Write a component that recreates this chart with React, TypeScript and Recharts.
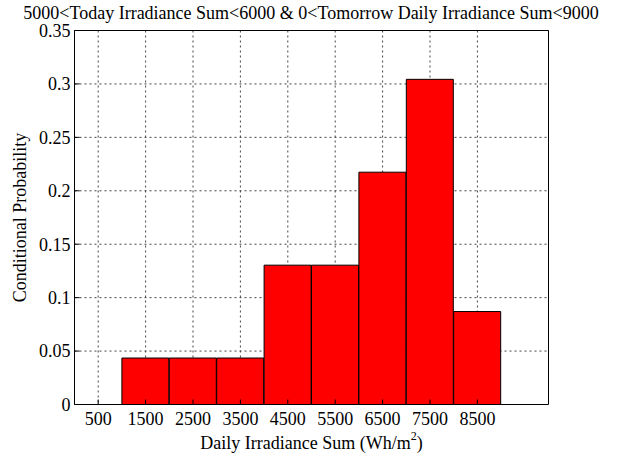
import { ComposedChart, Bar, XAxis, YAxis, CartesianGrid } from "recharts";

const binCenters = [1500, 2500, 3500, 4500, 5500, 6500, 7500, 8500];
const probabilities = [0.0435, 0.0435, 0.0435, 0.1304, 0.1304, 0.2174, 0.3043, 0.087];
const xTicks = [500, 1500, 2500, 3500, 4500, 5500, 6500, 7500, 8500];
const yTicks = [0, 0.05, 0.1, 0.15, 0.2, 0.25, 0.3, 0.35];

const chartTitle = "5000<Today Irradiance Sum<6000 & 0<Tomorrow Daily Irradiance Sum<9000";
const xTitle = "Daily Irradiance Sum (Wh/m";
const yTitle = "Conditional Probability";

const FONT = "'Liberation Serif', 'Times New Roman', serif";

export default function App() {
  const data = binCenters.map((c, i) => ({ center: c, prob: probabilities[i] }));
  const tickStyle = { fontFamily: FONT, fontSize: 18, fill: "#000" };

  return (
    <div style={{ position: "absolute", left: 0, top: 0, background: "#fff" }}>
      <ComposedChart
        width={623}
        height={459}
        data={data}
        margin={{ top: 29.5, right: 73.5, bottom: 0, left: 0.5 }}
        barCategoryGap={0}
        barGap={0}
      >
        <CartesianGrid stroke="#444" strokeDasharray="2 3" />
        <XAxis
          dataKey="center"
          type="number"
          domain={[0, 10000]}
          ticks={xTicks}
          interval={0}
          height={54.5}
          stroke="#000"
          tick={tickStyle}
          tickSize={-5}
          tickMargin={13}
          label={{
            content: ({ viewBox }: any) => {
              const cx = viewBox.x + viewBox.width / 2;
              return (
                <text x={cx} y={449} textAnchor="middle" fontFamily={FONT} fontSize={18} fill="#000">
                  {xTitle}
                  <tspan fontSize={12} dy={-9}>2</tspan>
                  <tspan dy={9}>)</tspan>
                </text>
              );
            },
          }}
        />
        <XAxis
          xAxisId="top"
          orientation="top"
          type="number"
          dataKey="center"
          domain={[0, 10000]}
          ticks={xTicks}
          height={1}
          tick={false}
          tickSize={-5}
          stroke="#000"
          label={{
            content: () => (
              <text x={311} y={18.5} textAnchor="middle" fontFamily={FONT} fontSize={18} fill="#000">
                {chartTitle}
              </text>
            ),
          }}
        />
        <YAxis
          type="number"
          domain={[0, 0.35]}
          ticks={yTicks}
          interval={0}
          width={74}
          stroke="#000"
          tick={tickStyle}
          tickSize={-5}
          tickMargin={9}
          tickFormatter={(v: number) => String(Number(v.toFixed(2)))}
          label={{
            content: ({ viewBox }: any) => {
              const cy = viewBox.y + viewBox.height / 2;
              return (
                <text
                  x={26}
                  y={cy}
                  transform={`rotate(-90, 26, ${cy})`}
                  textAnchor="middle"
                  fontFamily={FONT}
                  fontSize={18}
                  fill="#000"
                >
                  {yTitle}
                </text>
              );
            },
          }}
        />
        <YAxis
          yAxisId="r"
          orientation="right"
          type="number"
          domain={[0, 0.35]}
          ticks={yTicks}
          width={1}
          tick={false}
          tickSize={-5}
          stroke="#000"
        />
        <Bar dataKey="prob" fill="#ff0000" stroke="#000" strokeWidth={1} isAnimationActive={false} />
      </ComposedChart>
    </div>
  );
}
